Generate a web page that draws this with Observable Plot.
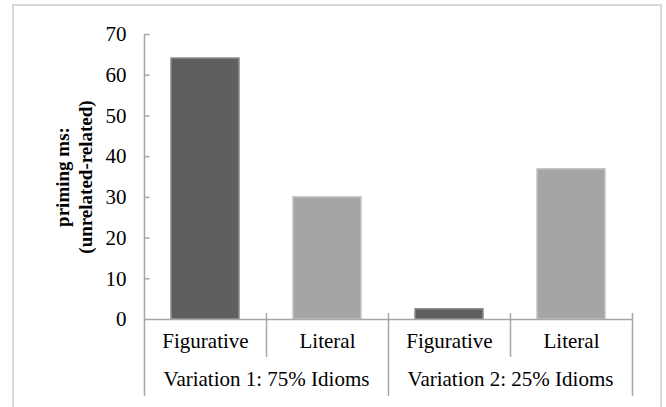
<!DOCTYPE html>
<html><head><meta charset="utf-8">
<script src="https://cdn.jsdelivr.net/npm/d3@7"></script>
<script src="https://cdn.jsdelivr.net/npm/@observablehq/plot@0.6"></script>
<style>
html,body{margin:0;padding:0;background:#fff;}
#wrap{position:relative;width:666px;height:407px;overflow:hidden;}
#border{position:absolute;left:12px;top:4px;width:650px;height:420px;border:2px solid #d9d9d9;box-sizing:border-box;}
#chart{position:absolute;left:0;top:0;}
</style></head>
<body><div id="wrap"><div id="border"></div><div id="chart"></div></div>
<script>
const categories = ["Figurative", "Literal", "Figurative", "Literal"];
const groups = ["Variation 1: 75% Idioms", "Variation 2: 25% Idioms"];
const values = [64.1, 30.0, 2.5, 36.9];
const yTicks = [0, 10, 20, 30, 40, 50, 60, 70];
const yTitle = "priming ms:\n(unrelated-related)";

const bars = categories.map((c, i) => ({i, cat: c, value: values[i], type: c}));
const groupData = groups.map((g, j) => ({j, label: g}));
const catSeps = [1, 3];
const groupSeps = [0, 2, 4];
const axisColor = "#a6a6a6";

const plot = Plot.plot({
  width: 666, height: 407,
  marginLeft: 144, marginRight: 34, marginTop: 34, marginBottom: 88,
  style: {fontFamily: "'Liberation Serif', 'Times New Roman', serif", fontSize: "21px", color: "#000", background: "transparent"},
  x: {domain: [0, 4], axis: null},
  y: {domain: [0, 70], axis: null},
  color: {domain: ["Figurative", "Literal"], range: ["#5f5f5f", "#a5a5a5"]},
  marks: [
    Plot.rectY(bars, {x1: d => d.i, x2: d => d.i + 1, y: "value", fill: "type", insetLeft: 27, insetRight: 27,
      stroke: d => d.type === "Figurative" ? "#8a8a8a" : "#c4c4c4", strokeWidth: 1.5}),
    Plot.ruleX([0], {stroke: axisColor, strokeWidth: 1.5, insetBottom: -77}),
    Plot.ruleY(yTicks.slice(1), {y: d => d, x1: 0, x2: 0.045, stroke: axisColor, strokeWidth: 1.5}),
    Plot.text(yTicks, {y: d => d, frameAnchor: "left", textAnchor: "end", dx: -18, text: d => String(d), fontSize: 21}),
    Plot.ruleY([0], {stroke: axisColor, strokeWidth: 1.5}),
    Plot.ruleX(catSeps, {x: d => d, stroke: axisColor, strokeWidth: 1.5, insetTop: 279, insetBottom: -38}),
    Plot.ruleX(groupSeps.slice(1), {x: d => d, stroke: axisColor, strokeWidth: 1.5, insetTop: 279, insetBottom: -77}),
    Plot.text(bars, {x: d => d.i + 0.5, frameAnchor: "bottom", textAnchor: "middle", dy: 28, text: "cat", fontSize: 21}),
    Plot.text(groupData, {x: d => d.j * 2 + 1, frameAnchor: "bottom", textAnchor: "middle", dy: 66, text: "label", fontSize: 21}),
    Plot.text([yTitle], {frameAnchor: "left", textAnchor: "middle", dx: -71, rotate: -90, text: d => d, fontWeight: "bold", fontSize: 19, lineHeight: 1.2})
  ]
});
document.getElementById("chart").appendChild(plot);
</script></body></html>
